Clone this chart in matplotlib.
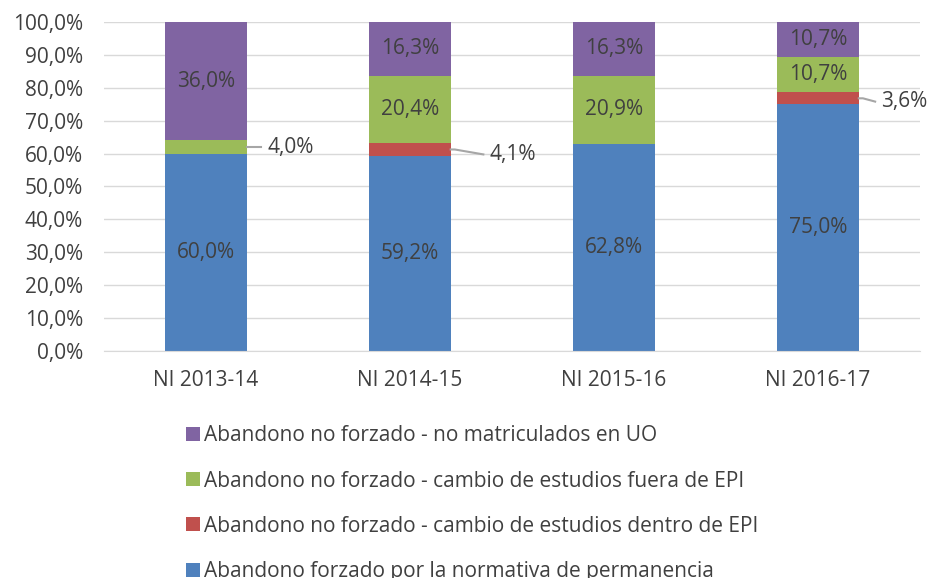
import numpy as np
import matplotlib.pyplot as plt

plt.rcParams['font.family'] = ['Open Sans', 'DejaVu Sans']

cursos = ['NI 2013-14', 'NI 2014-15', 'NI 2015-16', 'NI 2016-17']
forzado = [60.0, 59.2, 62.8, 75.0]
dentro_epi = [0.0, 4.1, 0.0, 3.6]
fuera_epi = [4.0, 20.4, 20.9, 10.7]
no_matric = [36.0, 16.3, 16.3, 10.7]

series = [
    ('Abandono forzado por la normativa de permanencia', forzado, '#4F81BD'),
    ('Abandono no forzado - cambio de estudios dentro de EPI', dentro_epi, '#C0504D'),
    ('Abandono no forzado - cambio de estudios fuera de EPI', fuera_epi, '#9BBB59'),
    ('Abandono no forzado - no matriculados en UO', no_matric, '#8064A2'),
]

texto = '#404040'
fs = 15
fig = plt.figure(figsize=(9.35, 5.78), dpi=100)
ax = fig.add_axes([0.111, 0.3927, 0.873, 0.5693])

x = np.arange(len(cursos))
ancho = 0.4
base = np.zeros(len(cursos))
barras = []
for nombre, vals, color in series:
    vals = np.array(vals)
    b = ax.bar(x, vals, ancho, bottom=base, color=color, label=nombre, zorder=2)
    barras.append(b)
    for i, v in enumerate(vals):
        if v >= 10:
            ax.text(x[i], base[i] + v / 2, f'{v:.1f}%'.replace('.', ','),
                    ha='center', va='center', fontsize=fs, color=texto, zorder=3)
        elif v > 0:
            yc = base[i] + v / 2
            # etiqueta fuera de la barra con línea guía
            dy = {0: 0.0, 1: -1.5, 3: -1.0}.get(i, 0)
            x0 = x[i] + ancho / 2
            x1 = x0 + (0.07 if i == 0 else 0.16 if i == 1 else 0.08)
            ax.plot([x0, x0 + 0.02, x1], [yc, yc, yc + dy], color='#a6a6a6',
                    lw=1.5, zorder=3, clip_on=False)
            ax.text(x1 + 0.03, yc + dy, f'{v:.1f}%'.replace('.', ','),
                    ha='left', va='center', fontsize=fs, color=texto, zorder=3)
    base = base + vals

ax.set_xlim(-0.5, len(cursos) - 0.5)
ax.set_ylim(0, 100)
ax.set_yticks(np.arange(0, 101, 10))
ax.set_yticklabels([f'{t:.1f}%'.replace('.', ',') for t in np.arange(0, 101, 10)])
ax.set_xticks(x)
ax.set_xticklabels(cursos)
ax.tick_params(axis='both', length=0, labelsize=fs, colors=texto)
ax.tick_params(axis='y', pad=15)
ax.tick_params(axis='x', pad=14)
ax.grid(axis='y', color='#d9d9d9', lw=1, zorder=0)
for s in ['top', 'right', 'left']:
    ax.spines[s].set_visible(False)
ax.spines['bottom'].set_color('#d9d9d9')

handles = [b for b in barras[::-1]]
labels = [s[0] for s in series[::-1]]
fig.legend(handles, labels, loc='upper left', bbox_to_anchor=(0.199, 0.264),
           frameon=False, fontsize=fs, handlelength=0.65, handleheight=0.65,
           handletextpad=0.2, labelspacing=1.16, labelcolor=texto,
           borderaxespad=0, borderpad=0)

fig.savefig('out.png', dpi=100)
